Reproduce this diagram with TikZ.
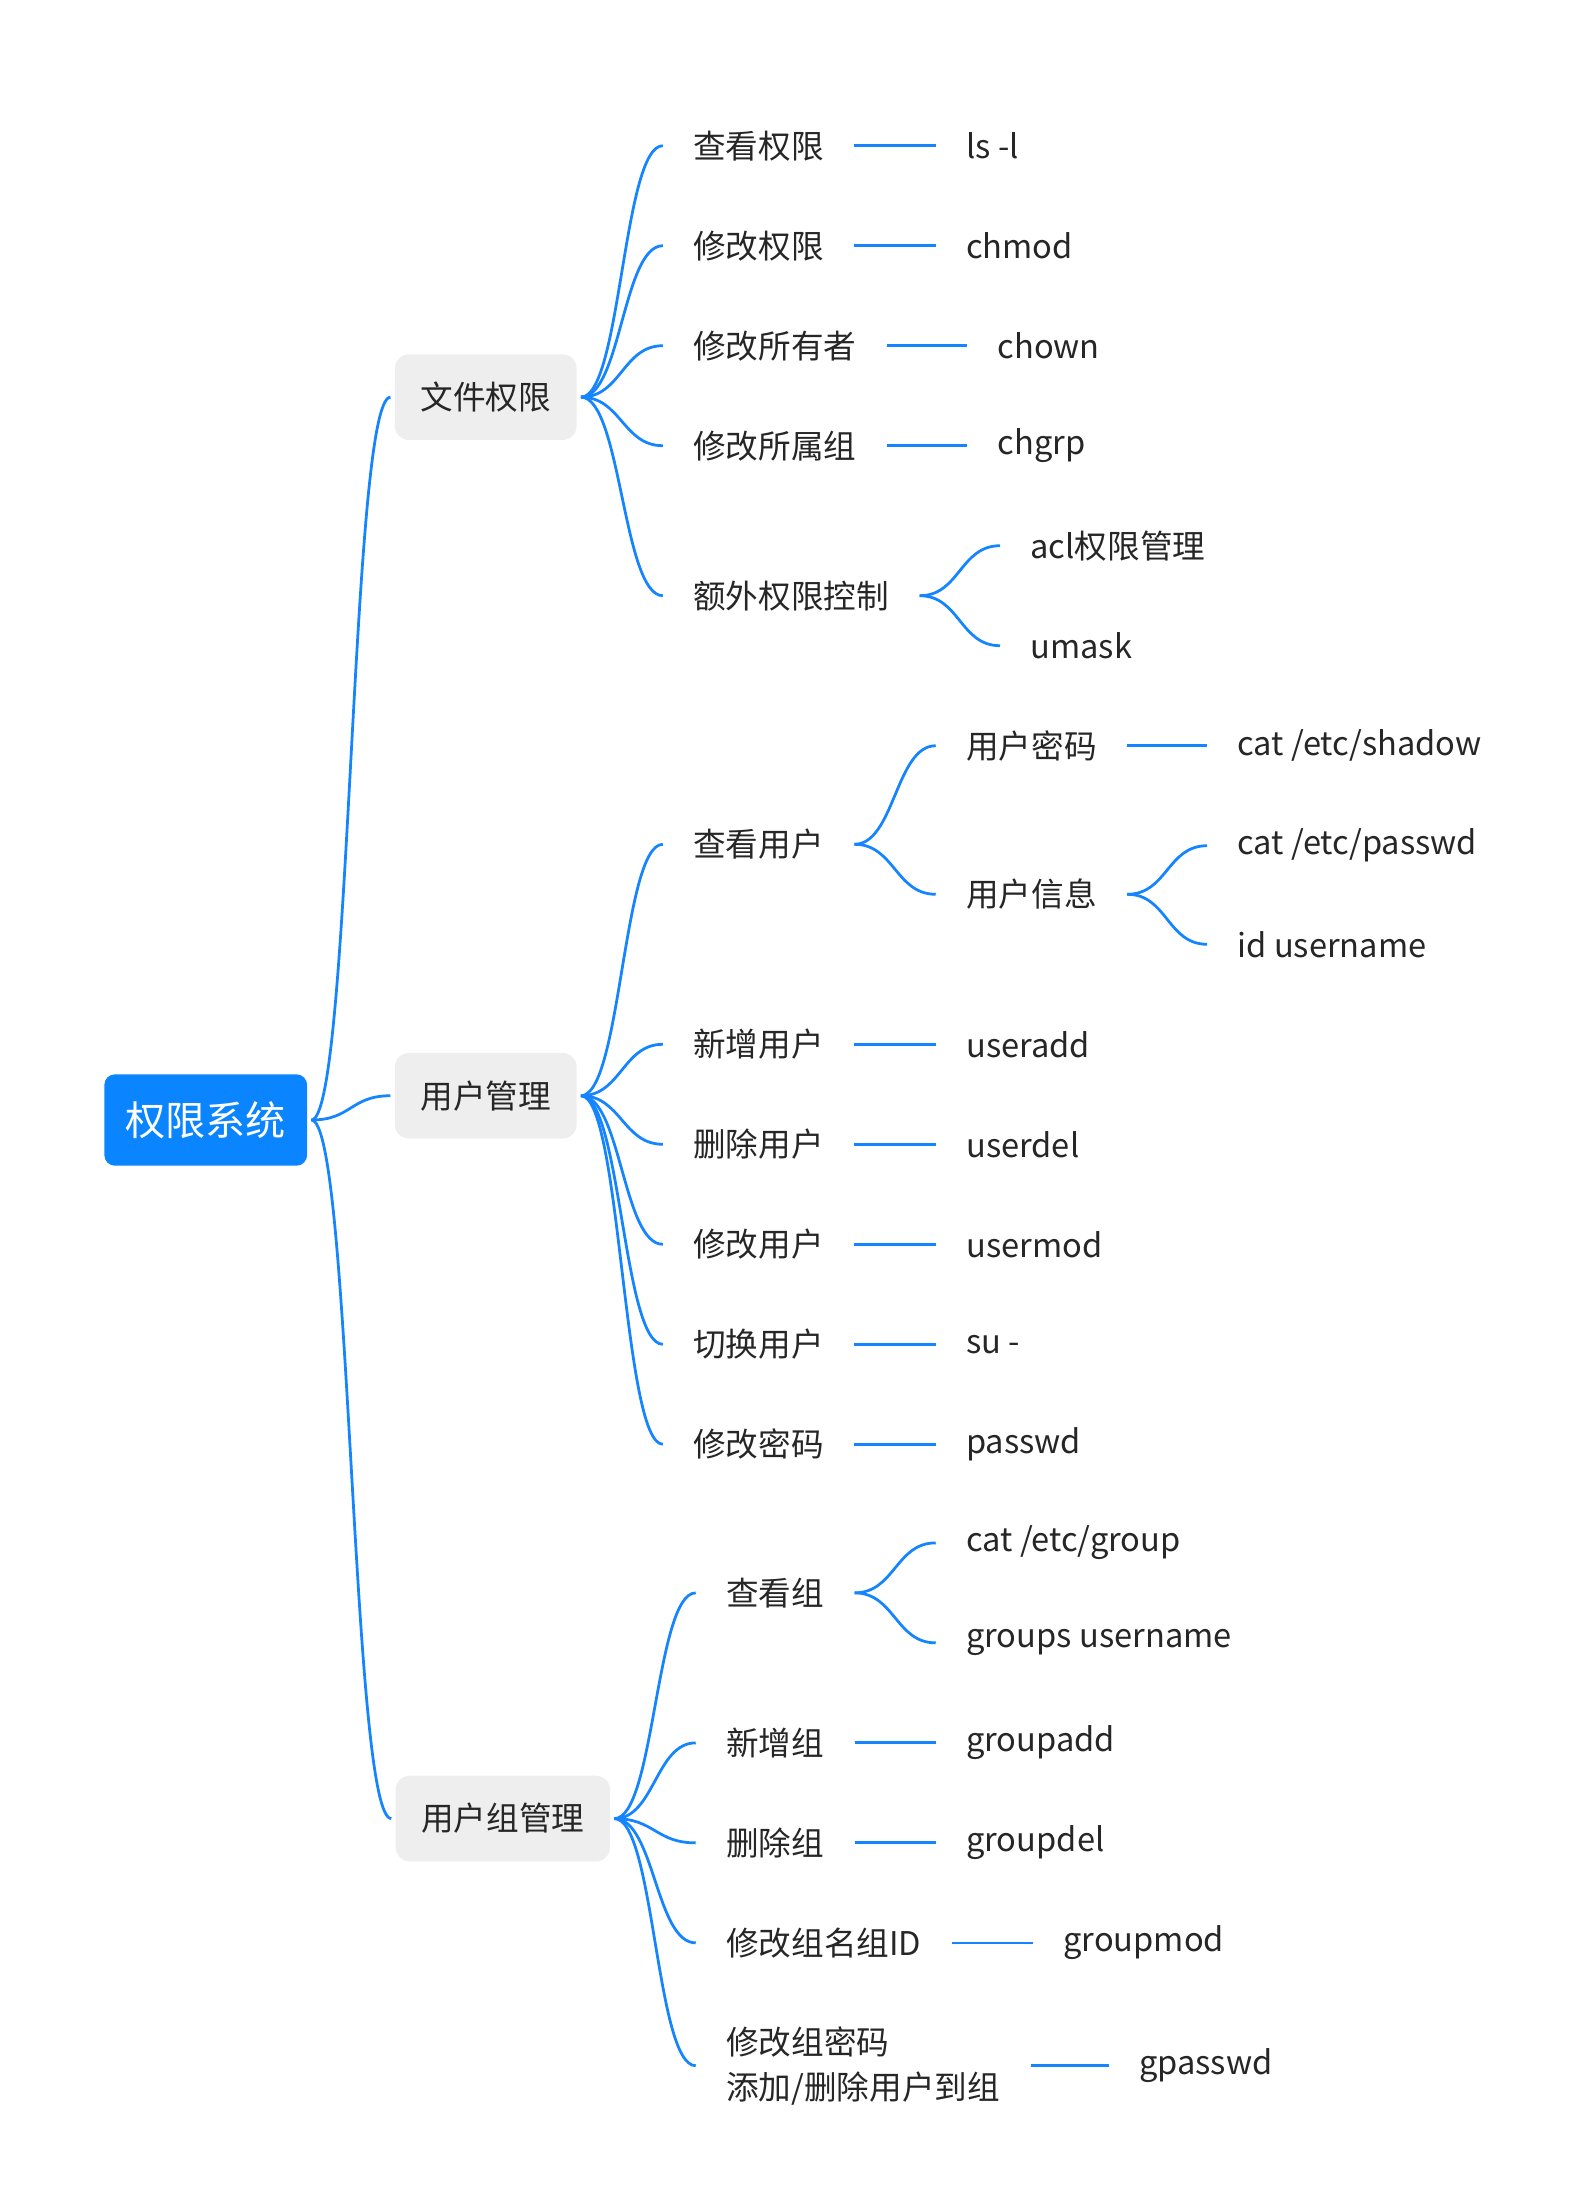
\documentclass[tikz,border=0pt]{standalone}
\usepackage{fontspec}
\setmainfont{Noto Sans CJK SC}
\definecolor{lnblue}{RGB}{20,132,255}
\definecolor{rootblue}{RGB}{10,132,255}
\definecolor{boxgray}{RGB}{238,238,238}
\begin{document}
\begin{tikzpicture}[x=0.02cm,y=-0.02cm,
  t/.style={anchor=west,inner xsep=0.42cm,inner ysep=2pt,font=\fontsize{13}{16}\selectfont,text=black!85},
  tl/.style={t,align=left},
  gb/.style={fill=boxgray,rounded corners=0.2cm,minimum height=1.2cm,inner xsep=0.36cm,font=\fontsize{13}{16}\selectfont,text=black!85,outer xsep=0.06cm},
  ln/.style={draw=lnblue,line width=1.1pt},
  cv/.style={ln},
]
\useasboundingbox (0,0) rectangle (1100,1540);
\node[fill=rootblue,rounded corners=0.15cm,minimum width=2.84cm,minimum height=1.28cm,text=white,font=\fontsize{16}{18}\selectfont,outer xsep=0.06cm] (root) at (144,784) {权限系统};
\node[gb] (f) at (340,278) {文件权限};
\node[gb] (u) at (340,767) {用户管理};
\node[gb] (g) at (352,1273) {用户组管理};
\foreach \n in {f,u,g}{\draw[cv] (root.east) .. controls +(28,0) and +(-28,0) .. (\n.west);}

% file permissions
\node[t] (f1) at (464,102) {查看权限};
\node[t] (f2) at (464,172) {修改权限};
\node[t] (f3) at (464,242) {修改所有者};
\node[t] (f4) at (464,312) {修改所属组};
\node[t] (f5) at (464,417) {额外权限控制};
\foreach \n in {f1,f2,f3,f4,f5}{\draw[cv] (f.east) .. controls +(28,0) and +(-28,0) .. (\n.west);}
\node[t] (f1a) at (655,102) {ls -l};
\node[t] (f2a) at (655,172) {chmod};
\node[t] (f3a) at (677,242) {chown};
\node[t] (f4a) at (677,312) {chgrp};
\foreach \a/\b in {f1/f1a,f2/f2a,f3/f3a,f4/f4a}{\draw[ln] (\a.east) -- (\b.west);}
\node[t] (f5a) at (700,382) {acl权限管理};
\node[t] (f5b) at (700,452) {umask};
\foreach \n in {f5a,f5b}{\draw[cv] (f5.east) .. controls +(28,0) and +(-28,0) .. (\n.west);}

% user management
\node[t] (u1) at (464,591) {查看用户};
\node[t] (u2) at (464,731) {新增用户};
\node[t] (u3) at (464,801) {删除用户};
\node[t] (u4) at (464,871) {修改用户};
\node[t] (u5) at (464,941) {切换用户};
\node[t] (u6) at (464,1011) {修改密码};
\foreach \n in {u1,u2,u3,u4,u5,u6}{\draw[cv] (u.east) .. controls +(28,0) and +(-28,0) .. (\n.west);}
\node[t] (u1a) at (655,522) {用户密码};
\node[t] (u1b) at (655,626) {用户信息};
\foreach \n in {u1a,u1b}{\draw[cv] (u1.east) .. controls +(28,0) and +(-28,0) .. (\n.west);}
\node[t] (sh) at (845,522) {cat /etc/shadow};
\draw[ln] (u1a.east) -- (sh.west);
\node[t] (pw) at (845,592) {cat /etc/passwd};
\node[t] (idu) at (845,661) {id username};
\foreach \n in {pw,idu}{\draw[cv] (u1b.east) .. controls +(28,0) and +(-28,0) .. (\n.west);}
\node[t] (u2a) at (655,731) {useradd};
\node[t] (u3a) at (655,801) {userdel};
\node[t] (u4a) at (655,871) {usermod};
\node[t] (u5a) at (655,941) {su -};
\node[t] (u6a) at (655,1011) {passwd};
\foreach \a in {u2,u3,u4,u5,u6}{\draw[ln] (\a.east) -- (\a a.west);}

% group management
\node[t] (g1) at (487,1115) {查看组};
\node[t] (g2) at (487,1220) {新增组};
\node[t] (g3) at (487,1290) {删除组};
\node[t] (g4) at (487,1360) {修改组名组ID};
\node[tl] (g5) at (487,1446) {修改组密码\\[2pt]添加/删除用户到组};
\foreach \n in {g1,g2,g3,g4,g5}{\draw[cv] (g.east) .. controls +(28,0) and +(-28,0) .. (\n.west);}
\node[t] (g1a) at (655,1080) {cat /etc/group};
\node[t] (g1b) at (655,1150) {groups username};
\foreach \n in {g1a,g1b}{\draw[cv] (g1.east) .. controls +(28,0) and +(-28,0) .. (\n.west);}
\node[t] (g2a) at (655,1220) {groupadd};
\node[t] (g3a) at (655,1290) {groupdel};
\node[t] (g4a) at (723,1360) {groupmod};
\node[t] (g5a) at (776,1446) {gpasswd};
\foreach \a in {g2,g3,g4,g5}{\draw[ln] (\a.east) -- (\a a.west);}
\end{tikzpicture}
\end{document}
